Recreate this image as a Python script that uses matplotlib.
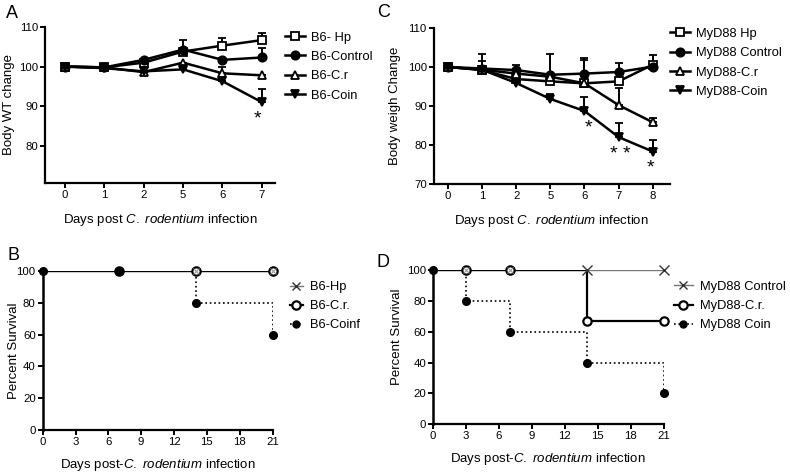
import matplotlib
matplotlib.use("Agg")
import matplotlib.pyplot as plt
import numpy as np

plt.rcParams['font.family'] = ['Liberation Sans', 'DejaVu Sans']
plt.rcParams['mathtext.fontset'] = 'custom'
plt.rcParams['mathtext.rm'] = 'Liberation Sans'
plt.rcParams['mathtext.it'] = 'Liberation Sans:italic'

# panel A - B6 body weight
days_a = ['0', '1', '2', '5', '6', '7']
hp_a = [100, 99.8, 101.0, 103.8, 105.3, 106.7]
hp_a_err = [0, 0, 0.3, 0.5, 2.0, 1.8]
ctrl_a = [100, 99.8, 101.7, 104.3, 101.7, 102.3]
ctrl_a_err = [0, 0, 0.3, 2.3, 0.5, 2.4]
cr_a = [100, 99.8, 98.6, 101.0, 98.3, 97.8]
cr_a_err = [0, 0, 0, 0, 1.5, 0]
coin_a = [100, 99.6, 98.8, 99.3, 96.3, 91.0]
coin_a_err = [0, 0, 0, 0, 0, 3.3]

# panel C - MyD88 body weight
days_c = ['0', '1', '2', '5', '6', '7', '8']
hp_c = [100, 99.2, 96.9, 96.3, 95.8, 96.3, 100.6]
hp_c_err = [0, 0, 0, 0, 0, 0, 2.4]
ctrl_c = [100, 99.6, 99.2, 98.0, 98.3, 98.7, 100.1]
ctrl_c_err = [0, 3.7, 1.2, 5.2, 3.9, 2.3, 0]
cr_c = [100, 99.3, 98.3, 97.5, 95.8, 90.2, 85.8]
cr_c_err = [0, 2.2, 0, 0, 6.0, 4.4, 1.0]
coin_c = [100, 99.3, 95.9, 91.8, 88.7, 82.0, 78.3]
coin_c_err = [0, 0, 0, 1.2, 3.7, 3.5, 2.9]

# panel B - B6 survival
surv_b_days = [0, 7, 14, 21]
surv_b_hp = [100, 100, 100, 100]
surv_b_cr = [100, 100, 100, 100]
surv_b_coin = [100, 100, 80, 60]

# panel D - MyD88 survival
surv_d_days = [0, 3, 7, 14, 21]
surv_d_ctrl = [100, 100, 100, 100, 100]
surv_d_cr = [100, 100, 100, 66.7, 66.7]
surv_d_coin = [100, 80, 60, 40, 20]

XLABEL = 'Days post $\\it{C.\\ rodentium}$ infection'
XLABEL2 = 'Days post-$\\it{C.\\ rodentium}$ infection'


def style_axes(ax):
    for s in ['top', 'right']:
        ax.spines[s].set_visible(False)
    for s in ['left', 'bottom']:
        ax.spines[s].set_linewidth(1.6)
    ax.tick_params(direction='out', length=3.5, width=1.4, labelsize=8.2, pad=1.5)


def weight_panel(ax, days, series, ylim, yticks, ylabel, leg_anchor):
    x = np.arange(len(days))
    for vals, err, marker, mfc, label in series:
        ax.errorbar(x, vals, yerr=[np.zeros(len(err)), err], color='black', lw=1.8,
                    marker=marker, ms=6, mfc=mfc, mec='black', mew=1.3,
                    capsize=3.2, elinewidth=1.4, capthick=1.4, label=label, clip_on=False)
    ax.set_xticks(x)
    ax.set_xticklabels(days)
    ax.set_xlim(-0.5, len(days) - 0.67)
    ax.set_ylim(*ylim)
    ax.set_yticks(yticks)
    ax.set_ylabel(ylabel, fontsize=9.5)
    ax.set_xlabel(XLABEL, fontsize=9.5, labelpad=9)
    style_axes(ax)
    h, l = ax.get_legend_handles_labels()
    h = [hh[0] for hh in h]
    ax.legend(h, l, loc='upper left', bbox_to_anchor=leg_anchor, frameon=False,
              fontsize=9.3, handlelength=1.55, handletextpad=0.5, labelspacing=0.56,
              borderaxespad=0, borderpad=0)


fig = plt.figure(figsize=(7.9, 4.74), dpi=100)

axA = fig.add_axes([0.057, 0.614, 0.291, 0.329])
weight_panel(axA, days_a, [
    (hp_a, hp_a_err, 's', 'white', 'B6- Hp'),
    (ctrl_a, ctrl_a_err, 'o', 'black', 'B6-Control'),
    (cr_a, cr_a_err, '^', 'white', 'B6-C.r'),
    (coin_a, coin_a_err, 'v', 'black', 'B6-Coin'),
], (70.6, 110), [80, 90, 100, 110], 'Body WT change', (1.043, 0.97))
axA.yaxis.set_label_coords(-0.13, 0.5)
axA.text(4.88, coin_a[5] - 4.2, '*', ha='center', va='center', fontsize=14)

axC = fig.add_axes([0.549, 0.612, 0.299, 0.329])
weight_panel(axC, days_c, [
    (hp_c, hp_c_err, 's', 'white', 'MyD88 Hp'),
    (ctrl_c, ctrl_c_err, 'o', 'black', 'MyD88 Control'),
    (cr_c, cr_c_err, '^', 'white', 'MyD88-C.r'),
    (coin_c, coin_c_err, 'v', 'black', 'MyD88-Coin'),
], (70, 110), [70, 80, 90, 100, 110], 'Body weigh Change', (1.0, 1.0))
axC.set_xlim(-0.41, 6.5)
axC.yaxis.set_label_coords(-0.14, 0.5)
axC.text(4.12, coin_c[4] - 4.4, '*', ha='center', va='center', fontsize=14)
axC.text(5.05, coin_c[5] - 4.5, '* *', ha='center', va='center', fontsize=14)
axC.text(5.92, coin_c[6] - 4.2, '*', ha='center', va='center', fontsize=14)


def survival_panel(ax, days, hp, cr, coin, labels, hp_marks, leg_anchor, hlen):
    ax.plot(days, hp, color='#777777', lw=1.0, drawstyle='steps-post', zorder=2)
    ax.plot(days, coin, color='black', lw=1.2, ls=':', drawstyle='steps-post', zorder=3)
    ax.plot(days, cr, color='black', lw=1.6, drawstyle='steps-post', zorder=4)
    ax.plot(days[1:], cr[1:], ls='none', marker='o', ms=6, mfc='white', mec='black',
            mew=1.6, zorder=6, clip_on=False)
    ax.plot(days[hp_marks:], hp[hp_marks:], ls='none', marker='x', ms=7, mec='#333333',
            mew=1.0, zorder=7, clip_on=False)
    ax.plot(days[1:hp_marks], hp[1:hp_marks], ls='none', marker='x', ms=4, mec='#999999',
            mew=0.8, zorder=7, clip_on=False)
    ax.plot(days, coin, ls='none', marker='o', ms=5.5, mfc='black', mec='black',
            zorder=8, clip_on=False)
    ax.set_xlim(0, 21)
    ax.set_ylim(0, 100)
    ax.set_xticks(range(0, 22, 3))
    ax.set_yticks(range(0, 101, 20))
    ax.set_ylabel('Percent Survival', fontsize=9.5)
    ax.set_xlabel(XLABEL2, fontsize=9.5, labelpad=7)
    style_axes(ax)
    ax.spines['left'].set_linewidth(1.8)
    h1 = plt.Line2D([], [], color='#777777', lw=1.0, marker='x', ms=6, mec='#333333')
    h2 = plt.Line2D([], [], color='black', lw=1.6, marker='o', ms=6, mfc='white', mew=1.6)
    h3 = plt.Line2D([], [], color='black', lw=1.2, ls=':', marker='o', ms=5, mfc='black')
    ax.legend([h1, h2, h3], labels, loc='upper left', bbox_to_anchor=leg_anchor,
              frameon=False, fontsize=9.3, handlelength=hlen, handletextpad=0.6,
              labelspacing=0.55, borderaxespad=0, borderpad=0)


axB = fig.add_axes([0.054, 0.093, 0.291, 0.335])
survival_panel(axB, surv_b_days, surv_b_hp, surv_b_cr, surv_b_coin,
               ['B6-Hp', 'B6-C.r.', 'B6-Coinf'], 4, (1.075, 0.937), 1.0)
axB.yaxis.set_label_coords(-0.10, 0.5)

axD = fig.add_axes([0.548, 0.105, 0.292, 0.325])
survival_panel(axD, surv_d_days, surv_d_ctrl, surv_d_cr, surv_d_coin,
               ['MyD88 Control', 'MyD88-C.r.', 'MyD88 Coin'], 3, (1.045, 0.93), 1.45)
axD.yaxis.set_label_coords(-0.13, 0.565)

fig.text(0.008, 0.972, 'A', fontsize=13, va='center')
fig.text(0.478, 0.974, 'C', fontsize=13, va='center')
fig.text(0.009, 0.462, 'B', fontsize=13, va='center')
fig.text(0.477, 0.447, 'D', fontsize=13, va='center')

fig.savefig('out.png', dpi=100)
